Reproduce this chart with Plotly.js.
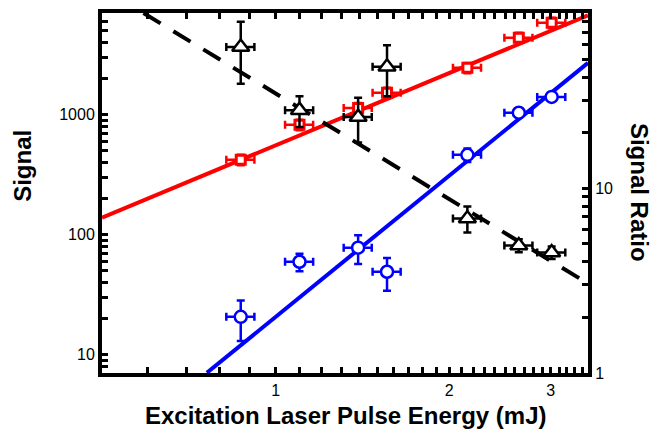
<!DOCTYPE html>
<html>
<head>
<meta charset="utf-8">
<script src="https://cdn.plot.ly/plotly-3.0.1.min.js"></script>
<style>html,body{margin:0;padding:0;background:#fff;}#chart{width:654px;height:439px;}</style>
</head>
<body>
<div id="chart"></div>
<script>
// Pulse energy (mJ) for each measurement
const energy = [0.87, 1.10, 1.39, 1.56, 2.15, 2.64, 3.01];
// Red squares (left axis)
const redSignal = [422, 826, 1140, 1525, 2460, 4380, 5840];
// Blue circles (left axis)
const blueSignal = [20.7, 59.6, 78, 49.2, 464, 1040, 1410];
const blueErr = [7.7, 10, 21, 15, 60, 90, 110];
// Black triangles: signal ratio (right axis)
const ratio = [58.3, 26.5, 24.3, 45.5, 6.87, 4.90, 4.49];
const ratioErr = [21.5, 5, 6.6, 14, 1.1, 0.4, 0.35];
// Fit lines (endpoints)
const redFitX = [0.5, 3.48];
const redFitY = [139, 6750];
const blueFitX = [0.76, 3.48];
const blueFitY = [7.08, 2710];
const ratioFitX = [0.59, 3.48];
const ratioFitY = [89, 3.05];
// Tick values
const xTicks = [0.6,0.7,0.8,0.9,1,1.1,1.2,1.3,1.4,1.5,1.6,1.7,1.8,1.9,2,2.1,2.2,2.3,2.4,2.5,2.6,2.7,2.8,2.9,3,3.1,3.2,3.3,3.4];
const xLabels = {1:'1', 2:'2', 3:'3'};
const yTicks = [8,9,10,20,30,40,50,60,70,80,90,100,200,300,400,500,600,700,800,900,1000,2000,3000,4000,5000,6000,7000];
const yLabels = {10:'10', 100:'100', 1000:'1000'};
const y2Ticks = [1,2,3,4,5,6,7,8,9,10,20,30,40,50,60,70,80];
const y2Labels = {1:'1', 10:'10'};

const RED = 'rgb(255,0,0)', BLUE = 'rgb(0,0,255)', BLACK = 'rgb(0,0,0)';
const ex = c => ({type:'percent', value:5.6, thickness:2.5, width:4, color:c});

const traces = [
  {x: redFitX, y: redFitY, mode:'lines', line:{color:RED, width:4}, xaxis:'x', yaxis:'y'},
  {x: blueFitX, y: blueFitY, mode:'lines', line:{color:BLUE, width:4}, xaxis:'x', yaxis:'y'},
  {x: ratioFitX, y: ratioFitY, mode:'lines', line:{color:BLACK, width:4, dash:'20px,15px'}, xaxis:'x', yaxis:'y2'},
  {x: energy, y: redSignal, mode:'markers', xaxis:'x', yaxis:'y',
   marker:{symbol:'square', size:9, color:'white', line:{color:RED, width:3}},
   error_x: ex(RED), error_y:{type:'percent', value:10, thickness:2.5, width:4, color:RED}},
  {x: energy, y: blueSignal, mode:'markers', xaxis:'x', yaxis:'y',
   marker:{symbol:'circle', size:12, color:'white', line:{color:BLUE, width:2.5}},
   error_x: ex(BLUE), error_y:{type:'data', array:blueErr, thickness:2.5, width:4, color:BLUE}},
  {x: energy, y: ratio, mode:'markers', xaxis:'x', yaxis:'y2',
   marker:{symbol:'triangle-up', size:15, color:'white', line:{color:BLACK, width:2.5}},
   error_x: ex(BLACK), error_y:{type:'data', array:ratioErr, thickness:2.5, width:4, color:BLACK}}
];

const FONT = 'Liberation Sans, Arial, sans-serif';
const axisCommon = {ticks:'inside', ticklen:6, tickwidth:3, tickcolor:'black',
  showline:true, linewidth:4, linecolor:'black', showgrid:false, zeroline:false, tickfont:{size:16}};
const layout = {
  width:654, height:439,
  margin:{l:102, r:66, t:13, b:66},
  paper_bgcolor:'white', plot_bgcolor:'white',
  showlegend:false,
  font:{family:FONT, size:16, color:'black'},
  xaxis:Object.assign({type:'log', range:[Math.log10(0.5), Math.log10(3.48)],
    tickvals:xTicks, ticktext:xTicks.map(v=>xLabels[v]||''), mirror:'ticks'}, axisCommon),
  yaxis:Object.assign({type:'log', range:[Math.log10(7.05), Math.log10(7050)],
    tickvals:yTicks, ticktext:yTicks.map(v=>yLabels[v]||'')}, axisCommon),
  yaxis2:Object.assign({type:'log', range:[0, Math.log10(89)], overlaying:'y', side:'right',
    tickvals:y2Ticks, ticktext:y2Ticks.map(v=>y2Labels[v]||'')}, axisCommon),
  annotations:[
    {text:'<b>Signal</b>', xref:'paper', yref:'paper', x:-0.165, y:0.575, textangle:-90,
     showarrow:false, xanchor:'center', yanchor:'middle', font:{family:FONT, size:24}},
    {text:'<b>Signal Ratio</b>', xref:'paper', yref:'paper', x:1.105, y:0.503, textangle:90,
     showarrow:false, xanchor:'center', yanchor:'middle', font:{family:FONT, size:24}},
    {text:'<b>Excitation Laser Pulse Energy (mJ)</b>', xref:'paper', yref:'paper', x:0.5, y:-0.117,
     showarrow:false, xanchor:'center', yanchor:'middle', font:{family:FONT, size:24}}
  ]
};

Plotly.newPlot('chart', traces, layout, {staticPlot:true, displayModeBar:false});
</script>
</body>
</html>
